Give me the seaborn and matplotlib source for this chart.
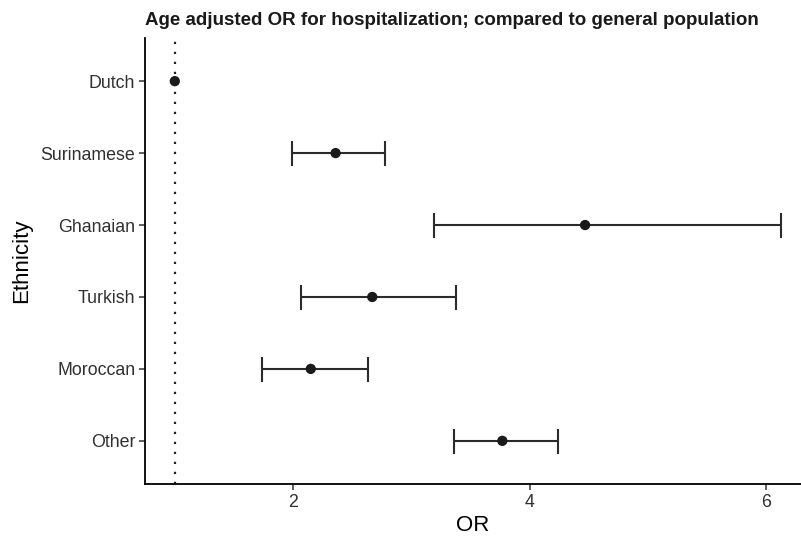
import matplotlib
matplotlib.use("Agg")
import matplotlib.pyplot as plt
import seaborn as sns
import numpy as np
import pandas as pd

ethnicity = ["Dutch", "Surinamese", "Ghanaian", "Turkish", "Moroccan", "Other"]
odds_ratio = [1.00, 2.36, 4.47, 2.67, 2.15, 3.77]
ci_low = [np.nan, 1.99, 3.19, 2.07, 1.74, 3.36]
ci_high = [np.nan, 2.78, 6.13, 3.38, 2.63, 4.24]
x_ticks = [2, 4, 6]
reference_or = 1.0

df = pd.DataFrame({"Ethnicity": ethnicity, "OR": odds_ratio,
                   "low": ci_low, "high": ci_high})

sns.set_theme(style="ticks")
plt.rcParams["font.family"] = ["Liberation Sans", "DejaVu Sans"]

fig = plt.figure(figsize=(8.01, 5.36), dpi=100)
ax = fig.add_axes([145 / 801, (536 - 484) / 536, 1 - 145 / 801, (484 - 38) / 536])

# points first so the categorical order follows the data order
sns.scatterplot(data=df, x="OR", y="Ethnicity", color="#1a1a1a", s=55,
                edgecolor="none", ax=ax, zorder=3)

err = df.dropna()
ax.errorbar(err["OR"], err["Ethnicity"],
            xerr=[err["OR"] - err["low"], err["high"] - err["OR"]],
            fmt="none", ecolor="#2b2b2b", elinewidth=1.5, capsize=9, capthick=1.5, zorder=2)

ax.axvline(reference_or, color="#222222", linestyle=(0, (1, 3.5)), linewidth=1.6, zorder=1)

ax.set_ylim(len(ethnicity) - 0.4, -0.6)
ax.set_xlim(0.748, 6.296)
ax.set_xticks(x_ticks)
ax.set_xticklabels([str(t) for t in x_ticks])

for side in ["top", "right"]:
    ax.spines[side].set_visible(False)
for side in ["left", "bottom"]:
    ax.spines[side].set_linewidth(1.3)
    ax.spines[side].set_color("black")
ax.tick_params(axis="both", length=4, width=1.1, color="#333333",
               labelsize=12.8, labelcolor="#303030", pad=3)

ax.set_xlabel("OR", fontsize=16, color="black", labelpad=3)
ax.set_ylabel("Ethnicity", fontsize=16, color="black", labelpad=6)
ax.set_title("Age adjusted OR for hospitalization; compared to general population",
             loc="left", fontsize=13.5, fontweight="bold", color="#1a1a1a", pad=9.5)

fig.savefig("out.png", dpi=100)
